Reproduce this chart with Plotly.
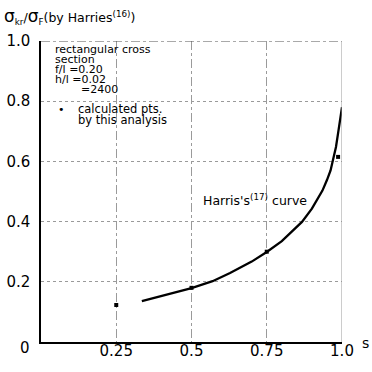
import plotly.graph_objects as go

# Harris's curve
curve_s = [0.335, 0.40, 0.50, 0.57, 0.628, 0.70, 0.75, 0.80, 0.867, 0.90, 0.917, 0.935, 0.95, 0.962, 0.97, 0.98, 0.987, 0.994, 1.0]
curve_r = [0.136, 0.153, 0.179, 0.202, 0.229, 0.267, 0.299, 0.335, 0.399, 0.443, 0.472, 0.503, 0.538, 0.570, 0.605, 0.648, 0.694, 0.735, 0.78]

# calculated points by this analysis
pts_s = [0.25, 0.5, 0.75, 0.987]
pts_r = [0.123, 0.18, 0.30, 0.615]

x_ticks = [0.25, 0.5, 0.75, 1.0]
x_labels = ["0.25", "0.5", "0.75", "1.0"]
y_ticks = [0.2, 0.4, 0.6, 0.8, 1.0]
y_labels = ["0.2", "0.4", "0.6", "0.8", "1.0"]

FONT = "DejaVu Sans"

fig = go.Figure()
fig.add_trace(go.Scatter(x=curve_s, y=curve_r, mode="lines",
                         line=dict(color="black", width=2.3),
                         hoverinfo="skip", showlegend=False))
fig.add_trace(go.Scatter(x=pts_s, y=pts_r, mode="markers",
                         marker=dict(color="black", size=4, symbol="square"),
                         showlegend=False))

fig.update_layout(
    width=372, height=372,
    margin=dict(l=41, r=30, t=41, b=30),
    paper_bgcolor="white", plot_bgcolor="white",
    font=dict(family=FONT, color="black", size=13),
    xaxis=dict(range=[0, 1], tickvals=x_ticks, ticktext=x_labels, automargin=False,
               showgrid=True, gridcolor="#9a9a9a", gridwidth=1, griddash="dashdot",
               zeroline=False, showline=True, linecolor="black", linewidth=1.5,
               ticks="", tickfont=dict(size=15, family=FONT), ticklabelstandoff=-6),
    yaxis=dict(range=[0, 1], tickvals=y_ticks, ticktext=y_labels, automargin=False,
               showgrid=True, gridcolor="#9a9a9a", gridwidth=1, griddash="dot",
               zeroline=False, showline=True, linecolor="black", linewidth=1.5,
               ticks="", tickfont=dict(size=15, family=FONT), ticklabelstandoff=6),
)

# top (dash-dot) and right borders
fig.add_shape(type="line", xref="x", yref="y", x0=0, x1=1, y0=1, y1=1,
              line=dict(color="#555", width=1, dash="dashdot"))
fig.add_shape(type="line", xref="x", yref="y", x0=1, x1=1, y0=0, y1=1,
              line=dict(color="#999", width=1))
# x-axis extension with arrow
fig.add_annotation(x=1.035, y=0, xref="x", yref="y", ax=-14, ay=0, text="",
                   showarrow=True, arrowhead=2, arrowsize=0.8, arrowwidth=1.2, arrowcolor="black")
# y-axis arrow tip
fig.add_annotation(x=0, y=1.035, xref="x", yref="y", ax=0, ay=12, text="",
                   showarrow=True, arrowhead=2, arrowsize=0.6, arrowwidth=1, arrowcolor="black")


def px_x(p):
    return (p - 41) / 301.0


def px_y(p):
    return (342 - p) / 301.0


def txt(x, y, s, size, xanchor="left"):
    fig.add_annotation(x=px_x(x), y=px_y(y), xref="paper", yref="paper",
                       xanchor=xanchor, yanchor="middle", showarrow=False, text=s,
                       borderpad=0, font=dict(family=FONT, size=size, color="black"))


txt(3, 17, "<span style='font-size:17px'>σ</span><sub>kr</sub>/"
           "<span style='font-size:17px'>σ</span><sub>F</sub>(by Harries<sup>(16)</sup>)", 12.5)
txt(361, 343, "s", 14)
txt(31, 348, "0", 15, xanchor="right")

block = ["rectangular cross", "section", "f/l =0.20", "h/l =0.02"]
block_y = [50, 60, 70, 80]
for s, yy in zip(block, block_y):
    txt(54, yy, s, 11)
txt(80, 90, "=2400", 11)
txt(57, 110, "•", 11)
txt(77, 109, "calculated pts.", 11.5)
txt(77, 120, "by this analysis", 11.5)
txt(202, 200, "Harris's<sup>(17)</sup> curve", 12.5)

# remove the default 8px page margin so the 372x372 figure fills the window
fig.write_html("out.html", config={"displayModeBar": False},
               post_script="document.body.style.margin='0';")
